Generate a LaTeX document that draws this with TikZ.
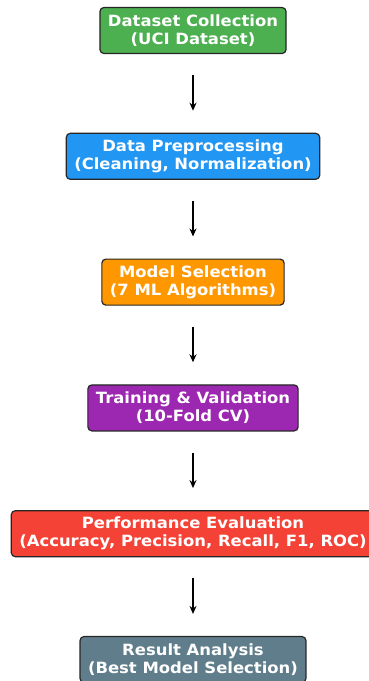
\documentclass[tikz,border=0pt]{standalone}
\usepackage{fontspec}
\setmainfont{DejaVu Sans}[FakeStretch=1.06]
\usetikzlibrary{positioning, arrows.meta}

\definecolor{stepgreen}{HTML}{4CAF50}
\definecolor{stepblue}{HTML}{2196F3}
\definecolor{steporange}{HTML}{FF9800}
\definecolor{steppurple}{HTML}{9C27B0}
\definecolor{stepred}{HTML}{F44336}
\definecolor{stepgrey}{HTML}{607D8B}

\begin{document}
\begin{tikzpicture}[
    x=1pt, y=1pt,
    every node/.style={font=\bfseries\fontsize{15.5}{18}\selectfont},
    stage/.style={draw=black!85, line width=1.2pt, rounded corners=4pt,
        text=white, align=center, minimum height=46pt, inner xsep=8pt, inner ysep=4pt},
    arrow/.style={-{Stealth[length=8pt, width=7pt]}, line width=1.6pt,
        shorten <=21pt, shorten >=22pt},
    node distance=78.6pt
]
\useasboundingbox (0,0) rectangle (368,-681);

% Pipeline stages
\node[stage, fill=stepgreen] (collect) at (193,-30.5) {Dataset Collection\\(UCI Dataset)};
\node[stage, fill=stepblue, below=of collect] (prep) {Data Preprocessing\\(Cleaning, Normalization)};
\node[stage, fill=steporange, below=of prep] (select) {Model Selection\\(7 ML Algorithms)};
\node[stage, fill=steppurple, below=of select] (train) {Training \& Validation\\(10-Fold CV)};
\node[stage, fill=stepred, below=of train] (eval) {Performance Evaluation\\(Accuracy, Precision, Recall, F1, ROC)};
\node[stage, fill=stepgrey, below=of eval] (result) {Result Analysis\\(Best Model Selection)};

% Arrows between stages
\draw[arrow] (collect) -- (prep);
\draw[arrow] (prep) -- (select);
\draw[arrow] (select) -- (train);
\draw[arrow] (train) -- (eval);
\draw[arrow] (eval) -- (result);

\end{tikzpicture}
\end{document}
